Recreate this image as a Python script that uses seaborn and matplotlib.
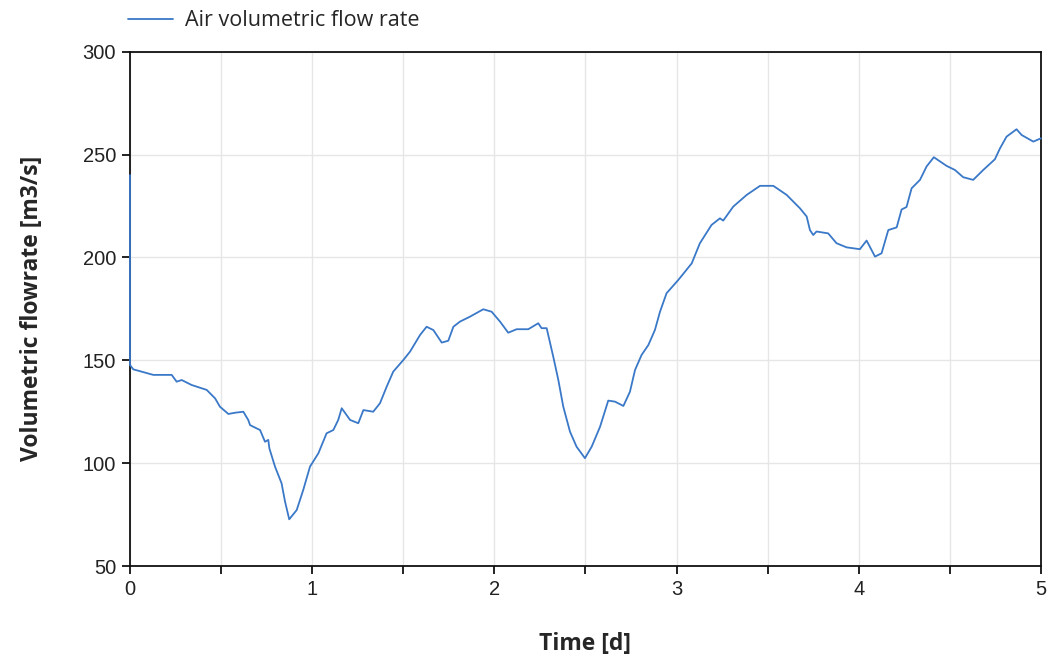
import matplotlib
matplotlib.use("Agg")
import matplotlib.pyplot as plt
from matplotlib.ticker import MultipleLocator
import pandas as pd
import seaborn as sns

# Simulation time [d] and air volumetric flow rate [m3/s]
time_d = [
    0.0, 0.0, 0.018, 0.128, 0.229, 0.256, 0.284, 0.338, 0.421, 0.467, 0.494,
    0.540, 0.576, 0.622, 0.649, 0.659, 0.695, 0.714, 0.741, 0.759, 0.765,
    0.796, 0.832, 0.851, 0.874, 0.915, 0.951, 0.988, 1.034, 1.079, 1.116,
    1.143, 1.162, 1.208, 1.253, 1.281, 1.335, 1.372, 1.409, 1.445, 1.500,
    1.537, 1.592, 1.628, 1.665, 1.711, 1.747, 1.775, 1.811, 1.866, 1.939,
    1.985, 2.031, 2.076, 2.122, 2.186, 2.241, 2.259, 2.287, 2.323, 2.351,
    2.378, 2.415, 2.451, 2.497, 2.534, 2.580, 2.625, 2.662, 2.708, 2.744,
    2.772, 2.808, 2.845, 2.881, 2.909, 2.945, 3.009, 3.083, 3.128, 3.192,
    3.238, 3.256, 3.311, 3.385, 3.458, 3.531, 3.604, 3.677, 3.714, 3.732,
    3.750, 3.768, 3.832, 3.878, 3.933, 4.006, 4.043, 4.089, 4.125, 4.162,
    4.208, 4.235, 4.262, 4.290, 4.336, 4.372, 4.412, 4.482, 4.528, 4.573,
    4.628, 4.683, 4.747, 4.775, 4.811, 4.866, 4.894, 4.958, 5.000,
]
flow_m3s = [
    240.0, 147.7, 145.6, 142.9, 142.9, 139.6, 140.4, 138.0, 135.6, 131.5, 127.4,
    123.9, 124.5, 125.0, 121.0, 118.5, 116.9, 116.1, 110.4, 111.3, 107.2,
    98.3, 90.2, 81.3, 72.7, 77.2, 87.0, 98.3, 104.8, 114.5, 116.1,
    121.0, 126.7, 121.0, 119.4, 125.8, 125.0, 129.1, 137.2, 144.5, 150.1,
    154.2, 162.3, 166.3, 164.7, 158.6, 159.5, 166.3, 168.8, 171.2, 174.8,
    173.6, 168.8, 163.4, 165.1, 165.1, 168.0, 165.6, 165.6, 151.8, 140.4,
    127.5, 115.3, 108.0, 102.4, 108.0, 117.7, 130.4, 129.9, 127.8, 134.7,
    145.3, 152.6, 157.4, 164.7, 173.6, 182.6, 189.0, 197.1, 206.9, 215.8,
    219.0, 217.9, 224.7, 230.4, 234.8, 234.8, 230.4, 223.9, 219.9, 213.3,
    210.9, 212.6, 211.7, 206.9, 204.9, 204.0, 208.2, 200.4, 202.0, 213.3,
    214.6, 223.3, 224.5, 233.6, 237.7, 244.2, 248.7, 244.5, 242.5, 239.0,
    237.7, 242.5, 247.7, 253.0, 258.7, 262.3, 259.5, 256.3, 257.9,
]

x_ticks = [0, 1, 2, 3, 4, 5]
y_ticks = [50, 100, 150, 200, 250, 300]

df = pd.DataFrame({"Time [d]": time_d, "Air volumetric flow rate": flow_m3s})

sns.set_theme(style="white")
plt.rcParams["font.family"] = ["Liberation Sans", "DejaVu Sans"]

fig = plt.figure(figsize=(10.5, 6.57), dpi=100)
ax = fig.add_axes([0.1238, 0.1385, 0.8676, 0.7828])

sns.lineplot(data=df, x="Time [d]", y="Air volumetric flow rate", ax=ax,
             estimator=None, sort=False, color="#3a78c8", linewidth=1.3,
             label="Air volumetric flow rate", zorder=3)
for ln in ax.get_lines():
    ln.set_clip_on(False)

ax.set_xlim(0, 5)
ax.set_ylim(50, 300)
ax.set_xticks(x_ticks)
ax.set_yticks(y_ticks)
ax.xaxis.set_minor_locator(MultipleLocator(0.5))

ax.grid(True, which="both", axis="x", color="#e6e6e6", linewidth=1.0)
ax.grid(True, which="major", axis="y", color="#e6e6e6", linewidth=1.0)
ax.set_axisbelow(True)

for side in ["left", "right", "top", "bottom"]:
    ax.spines[side].set_visible(True)
    ax.spines[side].set_color("#111111")
    ax.spines[side].set_linewidth(1.3)
    ax.spines[side].set_zorder(2.5)

ax.tick_params(axis="both", which="major", direction="out", length=6,
               width=1.3, color="#111111", labelsize=14.5, labelcolor="#222222",
               bottom=True, left=True, pad=4)
ax.tick_params(axis="x", which="minor", direction="out", length=6,
               width=1.3, color="#111111", bottom=True)

label_font = ["Open Sans", "DejaVu Sans"]
ax.set_xlabel("Time [d]", fontsize=16.5, fontweight="bold",
              family=label_font, labelpad=24)
ax.set_ylabel("Volumetric flowrate [m3/s]", fontsize=16.5, fontweight="bold",
              family=label_font, labelpad=28)

leg = ax.legend(loc="lower left", bbox_to_anchor=(-0.019, 1.01), frameon=False,
                handlelength=2.1, handletextpad=0.55, borderaxespad=0.3,
                prop={"family": label_font, "size": 15.5})
for line in leg.get_lines():
    line.set_linewidth(1.3)

fig.savefig("out.png", dpi=100)
